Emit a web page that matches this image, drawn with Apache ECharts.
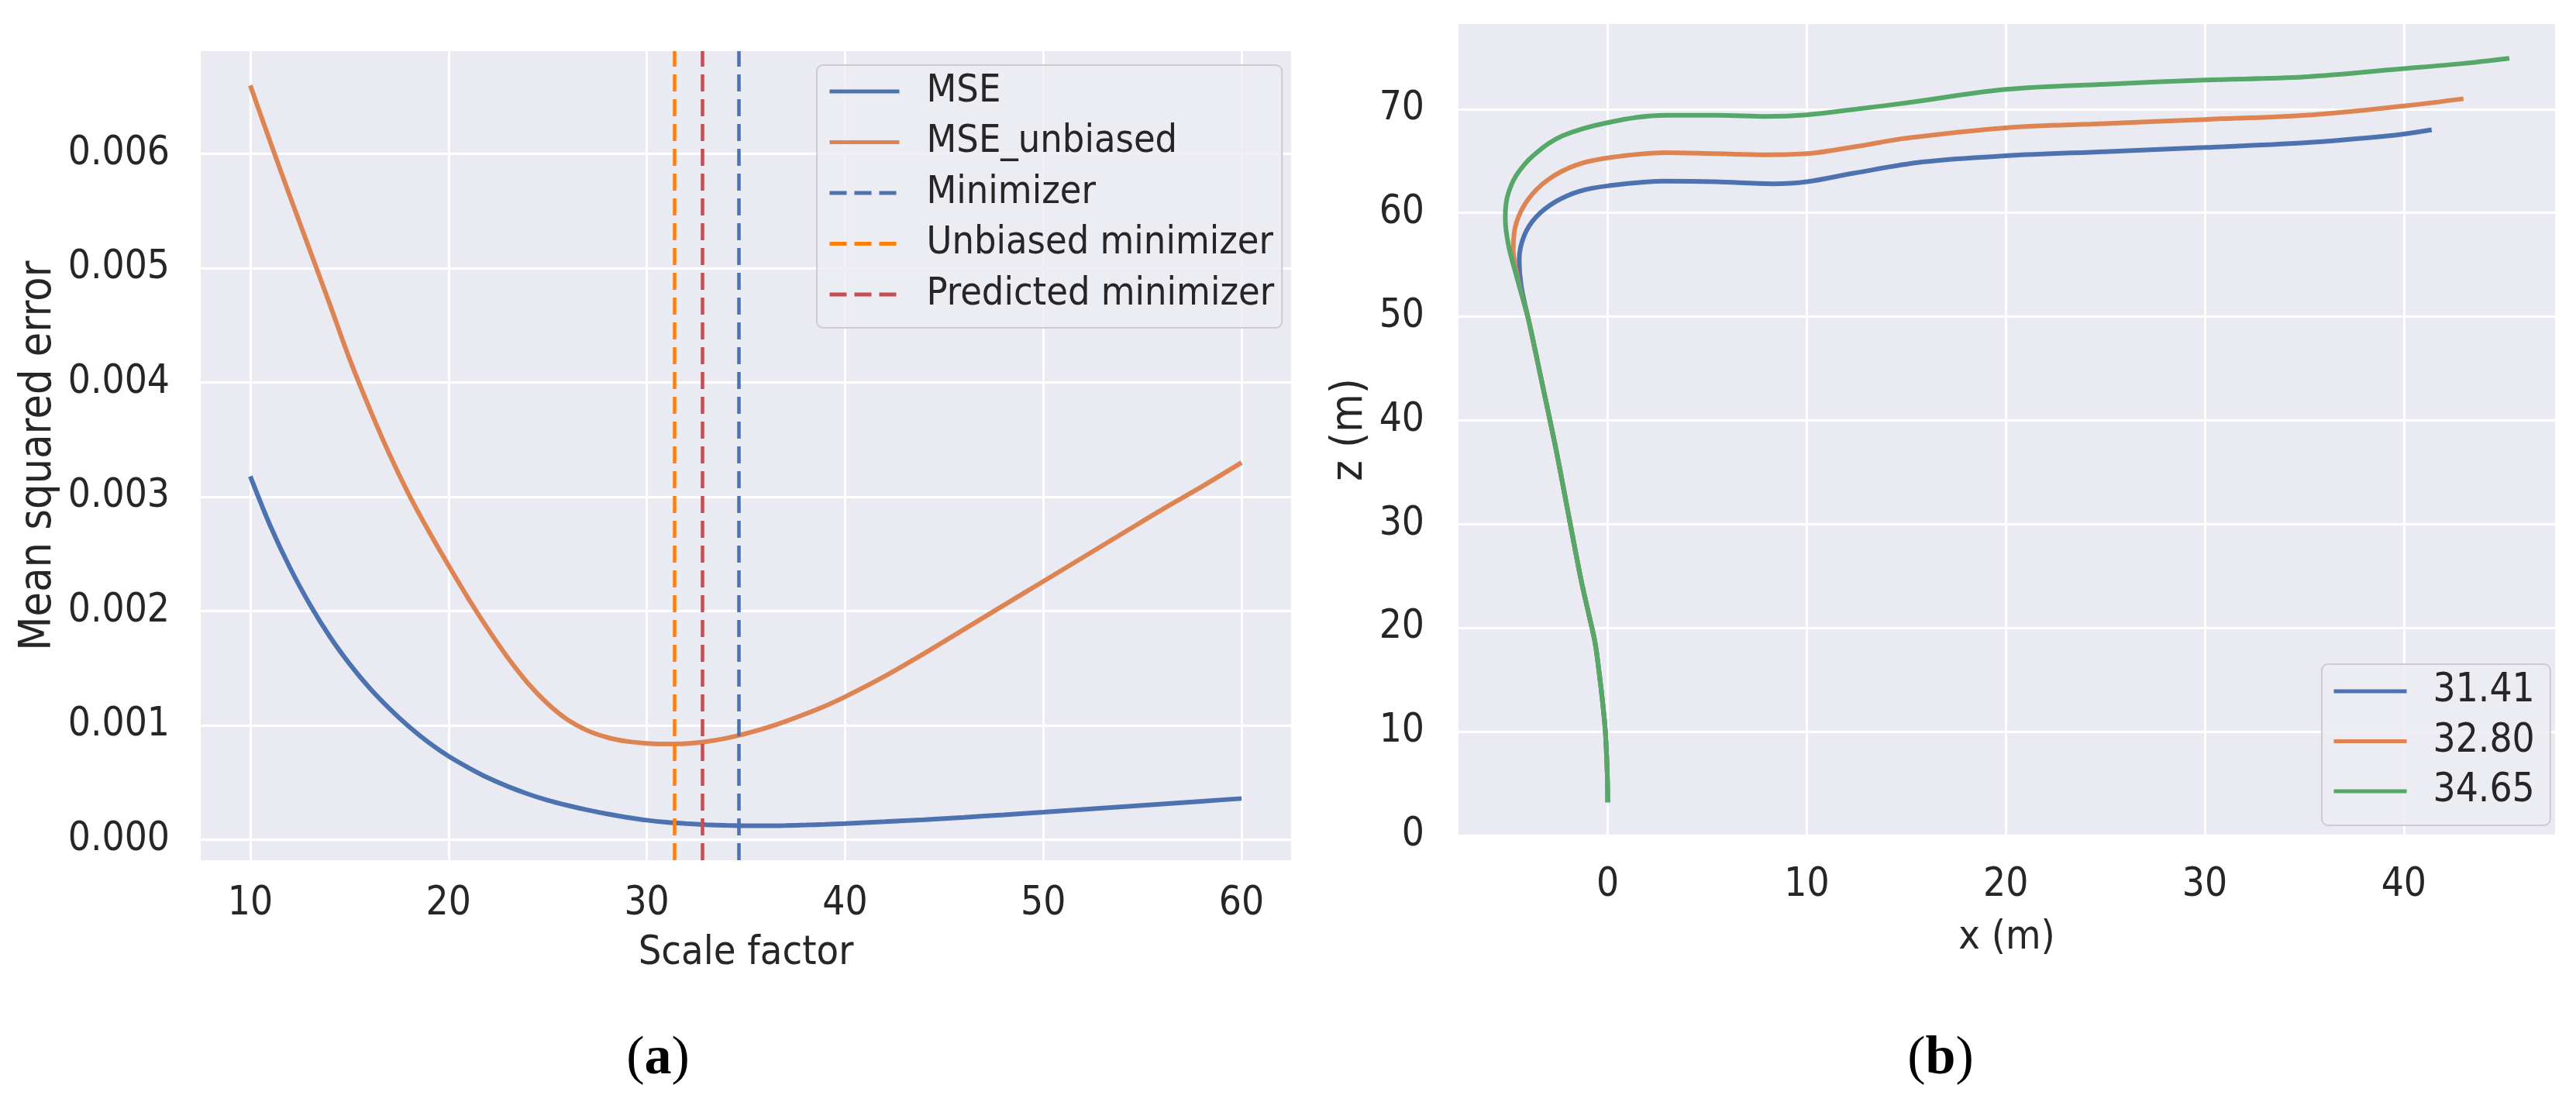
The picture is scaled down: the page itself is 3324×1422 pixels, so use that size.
<!DOCTYPE html>
<html>
<head>
<meta charset="utf-8">
<script src="https://cdn.jsdelivr.net/npm/echarts@6/dist/echarts.min.js"></script>
<style>
html,body{margin:0;padding:0;background:#fff;}
#c{width:3324px;height:1422px;}
</style>
</head>
<body>
<div id="c"></div>
<script>
// ---------- Panel (a) data ----------
const scaleFactor = [10,11,12,13,14,15,16,17,18,19,20,21,22,23,24,25,26,27,28,29,30,31,32,33,34,35,36,37,38,39,40,42,44,46,48,50,52,54,56,58,60];
const mse = [3.18,2.75,2.38,2.06,1.78,1.54,1.33,1.15,0.99,0.85,0.73,0.63,0.54,0.465,0.40,0.345,0.30,0.26,0.225,0.195,0.17,0.152,0.14,0.131,0.125,0.122,0.122,0.124,0.128,0.133,0.14,0.157,0.175,0.195,0.217,0.24,0.264,0.288,0.312,0.336,0.36]; // x1e-3
const mseUnbiased = [6.60,6.11,5.63,5.16,4.69,4.21,3.78,3.38,3.02,2.70,2.40,2.11,1.84,1.59,1.37,1.19,1.05,0.955,0.895,0.86,0.843,0.837,0.84,0.857,0.887,0.928,0.977,1.035,1.10,1.17,1.25,1.43,1.63,1.84,2.05,2.26,2.47,2.68,2.89,3.09,3.30]; // x1e-3
const minimizer = 34.65;
const unbiasedMinimizer = 31.41;
const predictedMinimizer = 32.80;
const xTicksA = [10,20,30,40,50,60];
const yTicksA = [0,0.001,0.002,0.003,0.004,0.005,0.006];

// ---------- Panel (b) data: [x, z] ----------
const track3141 = [[0,3.2],[-0.03,6.3],[-0.12,10],[-0.24,12.5],[-0.42,15.5],[-0.64,18.6],[-1.0,21.7],[-1.37,24.9],[-1.98,31.0],[-2.6,37.2],[-3.28,43.4],[-3.97,49.6],[-4.35,53.0],[-4.45,55.5],[-4.2,57.8],[-3.6,59.6],[-2.6,61.1],[-1.4,62.1],[0,62.6],[2.9,63.05],[5.4,63.0],[8.3,62.8],[10,63.0],[12.3,63.8],[15.8,64.9],[20,65.5],[25,65.9],[30,66.3],[35,66.75],[38,67.2],[40,67.6],[41.4,68.0]];
const track3280 = [[0,3.2],[-0.03,6.3],[-0.12,10],[-0.24,12.5],[-0.42,15.5],[-0.64,18.6],[-1.0,21.7],[-1.37,24.9],[-1.98,31.0],[-2.6,37.2],[-3.28,43.4],[-3.97,49.6],[-4.5,53.5],[-4.75,56.5],[-4.6,59.0],[-4.0,61.3],[-3.0,63.2],[-1.6,64.6],[0,65.3],[2.9,65.8],[5.5,65.7],[8,65.6],[10,65.7],[12.5,66.4],[15,67.2],[20,68.2],[25,68.6],[30,69.0],[35,69.4],[40,70.3],[43.0,71.0]];
const track3465 = [[0,3.2],[-0.03,6.3],[-0.12,10],[-0.24,12.5],[-0.42,15.5],[-0.64,18.6],[-1.0,21.7],[-1.37,24.9],[-1.98,31.0],[-2.6,37.2],[-3.28,43.4],[-3.97,49.6],[-4.6,54.0],[-5.0,57.0],[-5.15,59.5],[-5.05,61.5],[-4.6,63.6],[-3.7,65.6],[-2.3,67.4],[0,68.7],[2.9,69.4],[5.5,69.4],[8,69.3],[10,69.45],[12.5,70.0],[15,70.6],[20,71.9],[25,72.4],[30,72.8],[35,73.1],[40,73.9],[43,74.4],[45.3,74.9]];
const xTicksB = [0,10,20,30,40];
const zTicksB = [0,10,20,30,40,50,60,70];

// ---------- styling ----------
const FONT = '"DejaVu Sans Condensed", "DejaVu Sans", sans-serif';
const TXT = '#262626';
const BG = '#eaeaf2';
const C_BLUE = '#4c72b0', C_ORANGE = '#dd8452', C_GREEN = '#55a868', C_RED = '#c44e52', C_DORANGE = '#ff7f0e';
const LW = 6;
const TICK_FS = 51;

const chart = echarts.init(document.getElementById('c'), null, {renderer: 'canvas'});

function valAxis(o) {
  return Object.assign({
    type: 'value',
    axisLine: {show: false},
    axisTick: {show: false, customValues: o.ticks},
    axisLabel: {customValues: o.ticks, color: TXT, fontFamily: FONT, fontSize: TICK_FS, margin: o.margin, formatter: o.fmt},
    splitLine: {show: true, lineStyle: {color: '#ffffff', width: 3}},
    nameLocation: 'middle',
    nameTextStyle: {color: TXT, fontFamily: FONT, fontSize: o.nameSize},
  }, o.extra);
}

const DASH = [22, 10];
const vline = (name, color, v) => ({
  name, type: 'line', xAxisIndex: 0, yAxisIndex: 0, data: [], symbol: 'none',
  color, lineStyle: {color, width: 4.5, type: DASH},
  markLine: {silent: true, symbol: 'none', label: {show: false}, animation: false,
    lineStyle: {color, width: 4.5, type: DASH}, data: [{xAxis: v}]}
});

const legendBase = {
  orient: 'vertical', itemHeight: 20, selectedMode: false,
  backgroundColor: 'rgba(236,236,243,0.85)', borderColor: '#cccccc', borderWidth: 2, borderRadius: 8,
  itemStyle: {opacity: 0},
  lineStyle: {width: 5},
};

const option = {
  animation: false,
  grid: [
    {left: 259, top: 66, width: 1407, height: 1044, show: true, backgroundColor: BG, borderWidth: 0},
    {left: 1882, top: 31, width: 1415, height: 1047, show: true, backgroundColor: BG, borderWidth: 0}
  ],
  xAxis: [
    valAxis({ticks: xTicksA, margin: 31, nameSize: 52, fmt: v => String(v), extra: {gridIndex: 0, min: 7.5, max: 62.5, name: 'Scale factor', nameGap: 94}}),
    valAxis({ticks: xTicksB, margin: 39, nameSize: 52, fmt: v => String(v), extra: {gridIndex: 1, min: -7.5, max: 47.6, name: 'x (m)', nameGap: 106}})
  ],
  yAxis: [
    valAxis({ticks: yTicksA, margin: 40, nameSize: 57, fmt: v => v.toFixed(3), extra: {gridIndex: 0, min: -0.00018, max: 0.0069, name: 'Mean squared error', nameGap: 180}}),
    valAxis({ticks: zTicksB, margin: 44, nameSize: 57, fmt: v => String(v), extra: {gridIndex: 1, min: 0, max: 78.2, name: 'z (m)', nameGap: 111}})
  ],
  legend: [
    Object.assign({}, legendBase, {
      data: ['MSE', 'MSE_unbiased', 'Minimizer', 'Unbiased minimizer', 'Predicted minimizer'],
      left: 1054, top: 84, itemWidth: 90, itemGap: 14.5,
      padding: [8.5, 10, 17.5, 14],
      textStyle: {color: TXT, fontFamily: FONT, fontSize: 50, lineHeight: 51, padding: [0, 0, 0, 30]}
    }),
    Object.assign({}, legendBase, {
      data: ['31.41', '32.80', '34.65'],
      left: 2996, top: 857, itemWidth: 94, itemGap: 13.5,
      padding: [9.5, 20, 18.5, 13],
      textStyle: {color: TXT, fontFamily: FONT, fontSize: TICK_FS, lineHeight: 51, padding: [0, 0, 0, 29]}
    })
  ],
  series: [
    {name: 'MSE', type: 'line', xAxisIndex: 0, yAxisIndex: 0, symbol: 'none', smooth: 0.3,
      color: C_BLUE, lineStyle: {color: C_BLUE, width: LW},
      data: scaleFactor.map((x, i) => [x, mse[i] / 1000])},
    {name: 'MSE_unbiased', type: 'line', xAxisIndex: 0, yAxisIndex: 0, symbol: 'none', smooth: 0.3,
      color: C_ORANGE, lineStyle: {color: C_ORANGE, width: LW},
      data: scaleFactor.map((x, i) => [x, mseUnbiased[i] / 1000])},
    vline('Minimizer', C_BLUE, minimizer),
    vline('Unbiased minimizer', C_DORANGE, unbiasedMinimizer),
    vline('Predicted minimizer', C_RED, predictedMinimizer),
    {name: '31.41', type: 'line', xAxisIndex: 1, yAxisIndex: 1, symbol: 'none', smooth: 0.35,
      color: C_BLUE, lineStyle: {color: C_BLUE, width: LW}, data: track3141},
    {name: '32.80', type: 'line', xAxisIndex: 1, yAxisIndex: 1, symbol: 'none', smooth: 0.35,
      color: C_ORANGE, lineStyle: {color: C_ORANGE, width: LW}, data: track3280},
    {name: '34.65', type: 'line', xAxisIndex: 1, yAxisIndex: 1, symbol: 'none', smooth: 0.35,
      color: C_GREEN, lineStyle: {color: C_GREEN, width: LW}, data: track3465}
  ],
  graphic: [
    {type: 'text', x: 849, y: 1367, style: {text: '{p|(}{b|a}{p|)}', align: 'center', verticalAlign: 'middle',
      rich: {p: {fontFamily: '"Liberation Serif", serif', fontSize: 70, fill: '#000'}, b: {fontFamily: '"Liberation Serif", serif', fontSize: 70, fontWeight: 'bold', fill: '#000'}}}},
    {type: 'text', x: 2504, y: 1367, style: {text: '{p|(}{b|b}{p|)}', align: 'center', verticalAlign: 'middle',
      rich: {p: {fontFamily: '"Liberation Serif", serif', fontSize: 70, fill: '#000'}, b: {fontFamily: '"Liberation Serif", serif', fontSize: 70, fontWeight: 'bold', fill: '#000'}}}}
  ]
};
chart.setOption(option);
</script>
</body>
</html>
